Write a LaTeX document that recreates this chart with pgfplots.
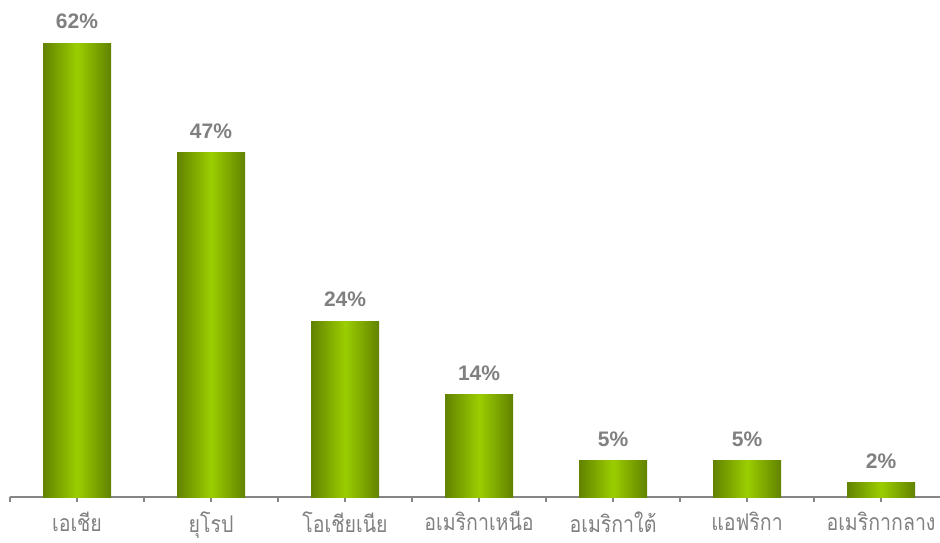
\documentclass[border=0pt]{standalone}
\usepackage{pgfplots}
\pgfplotsset{compat=1.18}
\usepackage{fontspec}
\setmainfont{Liberation Sans}
\newfontfamily\thaifont[Script=Thai, FakeStretch=0.85]{Loma}
\definecolor{bardark}{RGB}{98,130,0}
\definecolor{barlight}{RGB}{155,206,0}
\definecolor{txtgray}{RGB}{128,128,128}
\definecolor{axgray}{RGB}{134,134,134}
\pgfplotsset{greenbar/.style={draw=none, bar shift=0pt, left color=bardark, right color=bardark, middle color=barlight}}
\begin{document}
\begin{tikzpicture}[x=1pt,y=1pt]
\begin{axis}[
    at={(0,0)}, anchor=south west,
    scale only axis,
    width=930pt, height=497pt,
    xmin=-0.5, xmax=6.44,
    ymin=0, ymax=67.9,
    axis x line*=bottom,
    axis y line=none,
    x axis line style={axgray, line width=2pt},
    xtick={0,...,6},
    minor xtick={-0.5,0.5,...,6.5},
    xticklabels={เอเชีย,ยุโรป,โอเชียเนีย,อเมริกาเหนือ,อเมริกาใต้,แอฟริกา,อเมริกากลาง},
    tick align=outside,
    major tick length=5pt, minor tick length=5pt,
    tick style={axgray, line width=1.5pt},
    x tick label style={font=\thaifont\fontsize{23}{23}\selectfont, text=txtgray, yshift=-6pt},
    ybar, bar width=68pt,
    nodes near coords={\pgfmathprintnumber[assume math mode=true]{\pgfplotspointmeta}\%},
    nodes near coords style={font=\bfseries\fontsize{21}{21}\selectfont, text=txtgray, inner sep=0pt, yshift=14pt, anchor=south},
]
\addplot[greenbar] coordinates {(0,62)};
\addplot[greenbar] coordinates {(1,47)};
\addplot[greenbar] coordinates {(2,24)};
\addplot[greenbar] coordinates {(3,14)};
\addplot[greenbar] coordinates {(4,5)};
\addplot[greenbar] coordinates {(5,5)};
\addplot[greenbar] coordinates {(6,2)};
\end{axis}
\pgfresetboundingbox
\path (-10pt,-45pt) rectangle (930pt,497pt);
\end{tikzpicture}
\end{document}
